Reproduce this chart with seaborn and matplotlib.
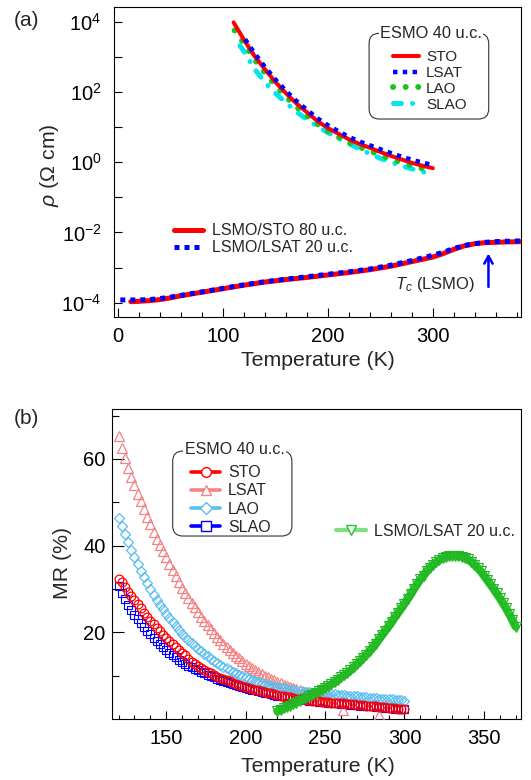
import numpy as np
import matplotlib
matplotlib.use("Agg")
import matplotlib.pyplot as plt
import seaborn as sns
from matplotlib.lines import Line2D
from matplotlib.patches import FancyBboxPatch
from matplotlib.ticker import FixedLocator, FixedFormatter, NullFormatter, MultipleLocator

sns.set_theme(style="ticks")
plt.rcParams["font.family"] = ["Liberation Sans", "DejaVu Sans"]
plt.rcParams["mathtext.fontset"] = "custom"
plt.rcParams["mathtext.rm"] = "Liberation Sans"
plt.rcParams["mathtext.it"] = "Liberation Sans:italic"
plt.rcParams["mathtext.bf"] = "Liberation Sans:bold"

# ---------------- panel (a): resistivity, log10(rho / Ohm cm) ----------------
T_esmo_sto = [110, 120, 130, 140, 150, 160, 170, 180, 190, 200, 210, 220, 230, 240, 250, 260, 270, 280, 290, 300]
logrho_esmo_sto = [3.98, 3.48, 3.02, 2.64, 2.28, 1.96, 1.67, 1.42, 1.17, 0.97, 0.81, 0.65, 0.52, 0.41, 0.29, 0.18, 0.08, -0.02, -0.10, -0.17]
T_esmo_lsat = [121, 130, 140, 150, 160, 170, 180, 190, 200, 210, 220, 230, 240, 250, 260, 270, 280, 290, 300]
logrho_esmo_lsat = [3.50, 3.10, 2.71, 2.35, 2.03, 1.74, 1.49, 1.25, 1.05, 0.88, 0.72, 0.59, 0.48, 0.37, 0.26, 0.16, 0.07, -0.01, -0.08]
T_esmo_lao = [111, 120, 130, 140, 150, 160, 170, 180, 190, 200, 210, 220, 230, 240, 250, 260, 270, 280, 290, 300]
logrho_esmo_lao = [3.75, 3.38, 2.92, 2.54, 2.18, 1.86, 1.57, 1.32, 1.08, 0.88, 0.71, 0.56, 0.43, 0.32, 0.20, 0.09, -0.01, -0.10, -0.18, -0.26]
T_esmo_slao = [116, 120, 130, 140, 150, 160, 170, 180, 190, 200, 210, 220, 230, 240, 250, 260, 270, 280, 290, 300]
logrho_esmo_slao = [3.32, 3.15, 2.65, 2.27, 1.96, 1.69, 1.43, 1.22, 1.02, 0.84, 0.68, 0.53, 0.38, 0.24, 0.11, 0.00, -0.10, -0.19, -0.27, -0.35]

T_lsmo_sto = [12, 20, 30, 40, 50, 60, 70, 80, 90, 100, 120, 140, 160, 180, 200, 220, 240, 260, 280, 300, 310, 320, 330, 340, 350, 360, 370, 384]
logrho_lsmo_sto = [-3.97, -3.96, -3.94, -3.91, -3.86, -3.80, -3.75, -3.70, -3.65, -3.60, -3.50, -3.41, -3.34, -3.28, -3.21, -3.14, -3.06, -2.96, -2.83, -2.70, -2.60, -2.48, -2.38, -2.32, -2.29, -2.28, -2.27, -2.26]
T_lsmo_lsat = [2, 10, 20, 30, 40, 50, 60, 70, 80, 90, 100, 120, 140, 160, 180, 200, 220, 240, 260, 280, 300, 310, 320, 330, 340, 350, 360, 370, 384]
logrho_lsmo_lsat = [-3.92, -3.92, -3.92, -3.91, -3.88, -3.84, -3.79, -3.74, -3.69, -3.64, -3.59, -3.49, -3.40, -3.33, -3.26, -3.19, -3.12, -3.04, -2.93, -2.80, -2.65, -2.56, -2.46, -2.37, -2.32, -2.28, -2.26, -2.25, -2.24]

xticks_a = [0, 100, 200, 300]
yticks_a = [1e-4, 1e-2, 1e0, 1e2, 1e4]
ytick_labels_a = [r"$\mathdefault{10^{-4}}$", r"$\mathdefault{10^{-2}}$", r"$\mathdefault{10^{0}}$",
                  r"$\mathdefault{10^{2}}$", r"$\mathdefault{10^{4}}$"]
yminor_a = [1e-3, 1e-1, 1e1, 1e3]
labels_esmo_a = ["STO", "LSAT", "LAO", "SLAO"]
labels_lsmo_a = ["LSMO/STO 80 u.c.", "LSMO/LSAT 20 u.c."]
tc_T, tc_log_from, tc_log_to = 353, -3.55, -2.60
tc_text_T, tc_text_log = 264, -3.47

# ---------------- panel (b): magnetoresistance MR (%) ----------------
T_mr = list(range(120, 301, 2))
mr_sto = [32.4, 31.5, 30.5, 29.4, 28.4, 27.4, 26.5, 25.5, 24.5, 23.6,
          22.7, 21.9, 21.0, 20.2, 19.4, 18.7, 18.0, 17.3, 16.6, 15.9,
          15.3, 14.7, 13.9, 13.2, 12.7, 12.2, 11.8, 11.3, 10.9, 10.5,
          10.1, 9.8, 9.5, 9.2, 8.9, 8.7, 8.4, 8.1, 7.9, 7.7,
          7.4, 7.2, 7.0, 6.8, 6.6, 6.4, 6.2, 6.0, 5.9, 5.7,
          5.5, 5.4, 5.3, 5.1, 5.0, 4.9, 4.7, 4.6, 4.5, 4.4,
          4.3, 4.2, 4.2, 4.1, 4.0, 4.0, 3.9, 3.8, 3.8, 3.7,
          3.6, 3.6, 3.5, 3.4, 3.4, 3.3, 3.2, 3.2, 3.1, 3.0,
          3.0, 2.9, 2.8, 2.8, 2.7, 2.6, 2.6, 2.5, 2.4, 2.4, 2.3]
mr_lao = [46.4, 44.5, 42.7, 40.8, 39.0, 37.3, 35.7, 34.2, 32.8, 31.3,
          30.0, 28.7, 27.5, 26.4, 25.4, 24.3, 23.3, 22.3, 21.4, 20.5,
          19.7, 18.9, 18.2, 17.6, 16.9, 16.2, 15.6, 15.0, 14.5, 13.9,
          13.4, 12.9, 12.5, 12.1, 11.7, 11.3, 10.9, 10.6, 10.2, 9.9,
          9.6, 9.3, 9.0, 8.7, 8.5, 8.3, 8.1, 7.9, 7.7, 7.5,
          7.3, 7.2, 7.1, 6.9, 6.8, 6.7, 6.5, 6.4, 6.3, 6.3,
          6.2, 6.1, 6.1, 6.0, 5.9, 5.9, 5.8, 5.7, 5.7, 5.6,
          5.5, 5.5, 5.4, 5.3, 5.3, 5.2, 5.1, 5.1, 5.0, 4.9,
          4.9, 4.8, 4.7, 4.7, 4.6, 4.5, 4.5, 4.4, 4.3, 4.3, 4.2]
mr_slao = [30.6, 29.1, 27.7, 26.3, 25.1, 24.1, 23.1, 22.2, 21.2, 20.3,
           19.5, 18.8, 18.0, 17.3, 16.6, 15.9, 15.3, 14.7, 14.2, 13.7,
           13.2, 12.7, 12.3, 11.9, 11.5, 11.2, 10.8, 10.5, 10.2, 9.9,
           9.6, 9.3, 9.1, 8.8, 8.5, 8.3, 8.0, 7.8, 7.6, 7.4,
           7.2, 7.0, 6.8, 6.6, 6.4, 6.2, 6.1, 5.9, 5.7, 5.6,
           5.4, 5.3, 5.2, 5.0, 4.9, 4.8, 4.6, 4.5, 4.4, 4.3,
           4.2, 4.1, 4.1, 4.0, 3.9, 3.9, 3.8, 3.7, 3.7, 3.6,
           3.5, 3.5, 3.4, 3.3, 3.3, 3.2, 3.1, 3.1, 3.0, 2.9,
           2.9, 2.8, 2.7, 2.7, 2.6, 2.5, 2.5, 2.4, 2.3, 2.3, 2.2]
T_mr_lsat = list(range(120, 253, 2)) + [261, 284]
mr_lsat = [65.2, 62.6, 60.2, 57.9, 55.8, 53.9, 52.0, 50.3, 48.5, 46.6,
           44.9, 43.2, 41.6, 40.1, 38.7, 37.4, 35.8, 34.4, 32.9, 31.5,
           30.2, 29.0, 27.8, 26.8, 25.8, 24.7, 23.6, 22.5, 21.6, 20.7,
           19.8, 19.0, 18.2, 17.4, 16.7, 16.0, 15.3, 14.6, 14.0, 13.4,
           12.8, 12.3, 11.8, 11.3, 10.8, 10.4, 10.0, 9.6, 9.2, 8.9,
           8.5, 8.2, 7.9, 7.7, 7.4, 7.1, 6.9, 6.7, 6.5, 6.3,
           6.1, 5.9, 5.7, 5.5, 5.4, 5.2, 5.0, 2.1, 0.9]
T_mr_lsmo = list(range(220, 371, 2))
mr_lsmo = [1.8, 2.1, 2.5, 2.8, 3.1, 3.5, 3.8, 4.1, 4.5, 4.9,
           5.2, 5.6, 6.0, 6.4, 6.8, 7.2, 7.6, 8.0, 8.5, 9.0,
           9.6, 10.1, 10.6, 11.2, 11.9, 12.6, 13.3, 14.1, 14.8, 15.6,
           16.5, 17.4, 18.4, 19.4, 20.4, 21.4, 22.4, 23.5, 24.5, 25.5,
           26.6, 27.7, 28.8, 30.0, 31.1, 32.2, 33.1, 34.1, 34.9, 35.6,
           36.2, 36.7, 37.1, 37.4, 37.6, 37.7, 37.7, 37.6, 37.4, 37.1,
           36.8, 36.3, 35.6, 34.9, 34.1, 33.1, 32.1, 31.1, 30.1, 29.0,
           27.9, 26.7, 25.5, 24.2, 22.8, 21.3]
xticks_b = [150, 200, 250, 300, 350]
yticks_b = [20, 40, 60]
yminor_b = [10, 30, 50, 70]
labels_esmo_b = ["STO", "LSAT", "LAO", "SLAO"]
label_lsmo_b = "LSMO/LSAT 20 u.c."
legend_title = "ESMO 40 u.c."

# ---------------- colours ----------------
RED = "#FF0000"
BLUE = "#0000FF"
GREEN_A = "#1EC31E"
CYAN = "#00E5EE"
PINK = "#F58282"
SKY = "#5ABEF0"
GREEN_B = "#2AC42A"
GREEN_B_EDGE = "#22B422"
GREEN_B_LIGHT = "#7FE07F"

fig = plt.figure(figsize=(5.31, 7.80), dpi=100)
axa = fig.add_axes([0.2143, 0.594, 0.7678, 0.3974])
axb = fig.add_axes([0.2111, 0.0782, 0.7710, 0.3974])


def draw(ax, x, y, **kw):
    sns.lineplot(x=x, y=y, ax=ax, estimator=None, sort=False, **kw)
    return ax.lines[-1]


# ---------- panel (a) ----------
axa.set_yscale("log")
rho = lambda v: 10 ** np.asarray(v)
l_slao = draw(axa, T_esmo_slao, rho(logrho_esmo_slao), color=CYAN, linewidth=3.6,
              linestyle=(0, (1.6, 2.2, 0.01, 2.2)), dash_capstyle="round", zorder=2)
l_lao = draw(axa, T_esmo_lao, rho(logrho_esmo_lao), color=GREEN_A, linewidth=4.3,
             linestyle=(0, (0.01, 2.1)), dash_capstyle="round", zorder=3)
l_sto = draw(axa, T_esmo_sto, rho(logrho_esmo_sto), color=RED, linewidth=2.9, zorder=4)
l_lsat = draw(axa, T_esmo_lsat, rho(logrho_esmo_lsat), color=BLUE, linewidth=3.2,
              linestyle=(0, (1, 1.2)), dash_capstyle="butt", zorder=5)
l_lsmo_sto = draw(axa, T_lsmo_sto, rho(logrho_lsmo_sto), color=RED, linewidth=3.6, zorder=4)
l_lsmo_lsat = draw(axa, T_lsmo_lsat, rho(logrho_lsmo_lsat), color=BLUE, linewidth=3.6,
                   linestyle=(0, (1, 1)), dash_capstyle="butt", zorder=5)

axa.set_xlim(-4.2, 384.5)
axa.set_ylim(10 ** -4.397, 10 ** 4.426)
axa.xaxis.set_major_locator(FixedLocator(xticks_a))
axa.xaxis.set_minor_locator(MultipleLocator(20))
axa.yaxis.set_major_locator(FixedLocator(yticks_a))
axa.yaxis.set_major_formatter(FixedFormatter(ytick_labels_a))
axa.yaxis.set_minor_locator(FixedLocator(yminor_a))
axa.yaxis.set_minor_formatter(NullFormatter())

axa.annotate("", xy=(tc_T, 10 ** tc_log_to), xytext=(tc_T, 10 ** tc_log_from),
             arrowprops=dict(arrowstyle="->,head_length=0.45,head_width=0.25", color=BLUE,
                             lw=1.8, shrinkA=0, shrinkB=0))
axa.text(tc_text_T, 10 ** tc_text_log, r"$T_c$ (LSMO)", fontsize=12, ha="left", va="center")

leg_a1 = axa.legend([l_sto, l_lsat, l_lao, l_slao], labels_esmo_a, loc="upper left",
                    bbox_to_anchor=(0.6843, 0.860), frameon=False, fontsize=11,
                    handlelength=1.73, handletextpad=0.44, labelspacing=0.12,
                    borderpad=0, borderaxespad=0)
axa.add_artist(leg_a1)
axa.legend([l_lsmo_sto, l_lsmo_lsat], labels_lsmo_a, loc="upper left",
           bbox_to_anchor=(0.1486, 0.3015), frameon=False, fontsize=11.5,
           handlelength=1.8, handletextpad=0.53, labelspacing=0.14,
           borderpad=0, borderaxespad=0)
axa.add_patch(FancyBboxPatch((0.6262, 0.6377), 0.2934, 0.2765,
                             boxstyle="round,pad=0,rounding_size=0.025",
                             mutation_aspect=407.7 / 310, transform=axa.transAxes,
                             facecolor="none", edgecolor="#333333", lw=0.8, zorder=6))
axa.text(0.7783, 0.912, legend_title, transform=axa.transAxes, ha="center", va="center",
         fontsize=11.8, zorder=7, bbox=dict(facecolor="white", edgecolor="none", pad=1.0))

axa.set_xlabel("Temperature (K)", fontsize=15.3)
axa.xaxis.set_label_coords(0.5016, -0.112)
axa.set_ylabel(r"$\rho$ (Ω cm)", fontsize=15.3)
axa.yaxis.set_label_coords(-0.1295, 0.489)

# ---------- panel (b) ----------
mk = dict(linestyle="none", markerfacecolor="none")
draw(axb, T_mr, mr_slao, color=BLUE, marker="s", markersize=5.2, markeredgecolor=BLUE,
     markeredgewidth=0.8, zorder=2, **mk)
draw(axb, T_mr_lsat, mr_lsat, color=PINK, marker="^", markersize=6.8, markeredgecolor=PINK,
     markeredgewidth=0.9, zorder=3, **mk)
draw(axb, T_mr, mr_lao, color=SKY, marker="D", markersize=5.2, markeredgecolor=SKY,
     markeredgewidth=0.9, zorder=4, **mk)
draw(axb, T_mr, mr_sto, color=RED, marker="o", markersize=6.3, markeredgecolor=RED,
     markeredgewidth=0.9, zorder=5, **mk)
draw(axb, T_mr_lsmo, mr_lsmo, color=GREEN_B, linewidth=6.0, zorder=6)
draw(axb, T_mr_lsmo, mr_lsmo, color=GREEN_B, marker="v", markersize=7.0,
     markeredgecolor=GREEN_B_EDGE, markeredgewidth=0.8, zorder=7, **mk)

axb.set_xlim(115.9, 373.7)
axb.set_ylim(0, 71.5)
axb.xaxis.set_major_locator(FixedLocator(xticks_b))
axb.xaxis.set_minor_locator(MultipleLocator(10))
axb.yaxis.set_major_locator(FixedLocator(yticks_b))
axb.yaxis.set_minor_locator(FixedLocator(yminor_b))

hb = [Line2D([], [], color=RED, lw=2.6, marker="o", ms=7, mfc="white", mec=RED, mew=1.0),
      Line2D([], [], color=PINK, lw=2.6, marker="^", ms=7.5, mfc="white", mec=PINK, mew=1.0),
      Line2D([], [], color=SKY, lw=2.6, marker="D", ms=6, mfc="white", mec=SKY, mew=1.0),
      Line2D([], [], color=BLUE, lw=2.6, marker="s", ms=6.5, mfc="white", mec=BLUE, mew=1.0)]
leg_b1 = axb.legend(hb, labels_esmo_b, loc="upper left", bbox_to_anchor=(0.1935, 0.818),
                    frameon=False, fontsize=11.5, handlelength=1.8, handletextpad=0.49,
                    labelspacing=0.19, borderpad=0, borderaxespad=0)
axb.add_artist(leg_b1)
hg = [Line2D([], [], color=GREEN_B_LIGHT, lw=3.0, marker="v", ms=7.5, mfc="white",
             mec=GREEN_B, mew=1.0)]
axb.legend(hg, [label_lsmo_b], loc="upper left", bbox_to_anchor=(0.5476, 0.630),
           frameon=False, fontsize=11.5, handlelength=1.84, handletextpad=0.53,
           borderpad=0, borderaxespad=0)
axb.add_patch(FancyBboxPatch((0.148, 0.5903), 0.2912, 0.2742,
                             boxstyle="round,pad=0,rounding_size=0.025",
                             mutation_aspect=409.4 / 310, transform=axb.transAxes,
                             facecolor="none", edgecolor="#333333", lw=0.8, zorder=8))
axb.text(0.2995, 0.871, legend_title, transform=axb.transAxes, ha="center", va="center",
         fontsize=11.5, zorder=9, bbox=dict(facecolor="white", edgecolor="none", pad=1.0))

axb.set_xlabel("Temperature (K)", fontsize=15.3)
axb.xaxis.set_label_coords(0.5017, -0.121)
axb.set_ylabel("MR (%)", fontsize=15.3)
axb.yaxis.set_label_coords(-0.0984, 0.503)

# ---------- common styling ----------
for ax in (axa, axb):
    for sp in ax.spines.values():
        sp.set_visible(True)
        sp.set_linewidth(0.8)
        sp.set_color("black")
    ax.tick_params(which="both", direction="in", color="black", width=0.8,
                   top=False, right=False, labelsize=14.5, labelcolor="black")
axa.tick_params(axis="x", which="major", length=6.5, pad=7.5)
axa.tick_params(axis="x", which="minor", length=3.4)
axa.tick_params(axis="y", which="major", length=6.1, pad=8.8)
axa.tick_params(axis="y", which="minor", length=5.4)
axb.tick_params(axis="x", which="major", length=6.0, pad=7.5)
axb.tick_params(axis="x", which="minor", length=3.0)
axb.tick_params(axis="y", which="major", length=8.6, pad=4.6)
axb.tick_params(axis="y", which="minor", length=5.2)

fig.text(13.5 / 531, 1 - 20 / 780, "(a)", fontsize=15, ha="left", va="center")
fig.text(13.5 / 531, 1 - 418.3 / 780, "(b)", fontsize=15, ha="left", va="center")

fig.savefig("out.png", dpi=100)
